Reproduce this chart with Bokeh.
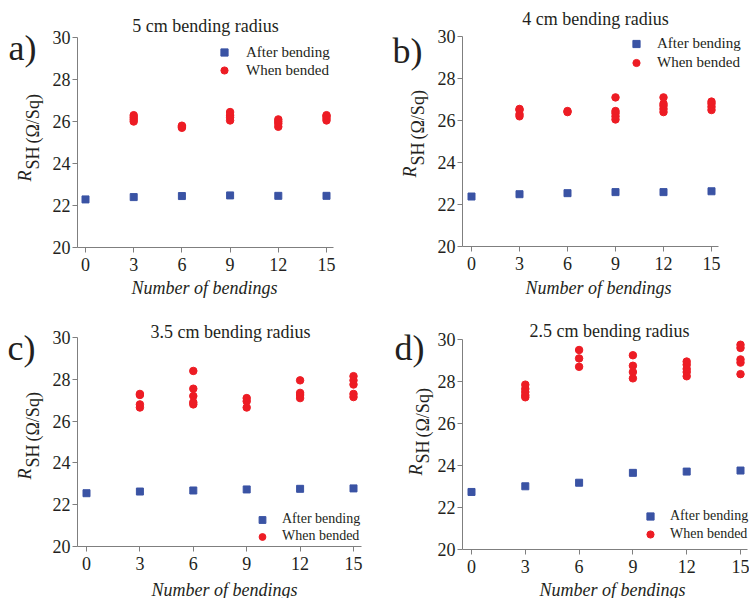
import numpy as np
from bokeh.plotting import figure
from bokeh.models import Label, Legend, LegendItem, FixedTicker, Range1d
from bokeh.layouts import column, row
from bokeh.embed import file_html
from bokeh.resources import INLINE

# ---------------- data ----------------
bend_n = [0, 3, 6, 9, 12, 15]
y_ticks = [20, 22, 24, 26, 28, 30]

titles = ["5 cm bending radius", "4 cm bending radius",
          "3.5 cm bending radius", "2.5 cm bending radius"]
letters = ["a)", "b)", "c)", "d)"]

a_after = [22.29, 22.40, 22.45, 22.48, 22.46, 22.46]
a_when = [[26.0, 26.1, 26.2, 26.3], [25.7, 25.75, 25.8],
          [26.05, 26.2, 26.3, 26.45], [25.75, 25.9, 26.0, 26.1],
          [26.05, 26.15, 26.25, 26.3]]

b_after = [22.38, 22.49, 22.54, 22.59, 22.59, 22.63]
b_when = [[26.2, 26.3, 26.5, 26.55], [26.4, 26.45],
          [26.05, 26.2, 26.35, 26.45, 27.1], [26.4, 26.55, 26.7, 26.8, 27.1],
          [26.5, 26.65, 26.8, 26.9]]

c_after = [22.55, 22.63, 22.68, 22.73, 22.76, 22.78]
c_when = [[26.65, 26.8, 27.25, 27.3], [26.8, 26.9, 27.2, 27.55, 28.4],
          [26.65, 26.95, 27.1], [27.1, 27.25, 27.35, 27.95],
          [27.15, 27.3, 27.75, 27.95, 28.15]]

d_after = [22.74, 23.01, 23.18, 23.65, 23.71, 23.76]
d_when = [[27.25, 27.35, 27.5, 27.65, 27.85], [28.7, 29.1, 29.5],
          [28.15, 28.45, 28.75, 29.25], [28.25, 28.45, 28.6, 28.8, 28.95],
          [28.35, 28.9, 29.05, 29.6, 29.75]]

# ---------------- layout (pixel geometry per panel) ----------------
FONT = "Liberation Serif"
BLUE = "#3a53a4"
RED = "#ed1c24"
AXIS = "#7f7f7f"
TXT = "#231f20"

geoms = [
    dict(W=374, H=298, L=77, R=333, T=37, B=247, x0=85, x15=326,
         title=(205, 25), letter=(8, 47), leg=(224, 52, 18, 246), legfs=15,
         yl=(24, 32, 181), xl=(204, 287)),
    dict(W=375, H=298, L=88, R=344, T=36, B=246, x0=97, x15=337,
         title=(221, 18), letter=(18, 50), leg=(262, 43, 19, 283), legfs=15,
         yl=(35, 43, 177), xl=(224, 287)),
    dict(W=374, H=300, L=77, R=361, T=39, B=248, x0=86, x15=353,
         title=(230, 33), letter=(7, 49), leg=(262, 221, 17, 282), legfs=14,
         yl=(24, 32, 181), xl=(224, 291)),
    dict(W=375, H=300, L=88, R=373, T=41, B=251, x0=97, x15=366,
         title=(235, 32), letter=(20, 49), leg=(276, 218, 18, 296), legfs=14,
         yl=(41, 48, 177), xl=(238, 291)),
]


def make_panel(title, letter, after, when, g):
    k = (g["x15"] - g["x0"]) / 15.0

    def X(px):
        return (px - g["x0"]) / k

    def Y(py):
        return 30 - (py - g["T"]) / (g["B"] - g["T"]) * 10

    W, H = g["W"], g["H"]
    p = figure(width=W, height=H, x_range=Range1d(X(0), X(W)),
               y_range=Range1d(Y(H), Y(0)), output_backend="svg",
               toolbar_location=None, title=None,
               min_border_left=0, min_border_right=0,
               min_border_top=0, min_border_bottom=0)
    p.outline_line_color = None
    p.xgrid.visible = False
    p.ygrid.visible = False
    p.background_fill_color = "white"
    p.border_fill_color = "white"

    for ax, ticks in ((p.xaxis, bend_n), (p.yaxis, y_ticks)):
        ax.ticker = FixedTicker(ticks=ticks)
        ax.minor_tick_line_color = None
        ax.major_tick_in = 0
        ax.major_tick_out = 5
        ax.axis_line_color = AXIS
        ax.major_tick_line_color = AXIS
        ax.major_label_text_font = FONT
        ax.major_label_text_font_size = "18px"
        ax.major_label_text_color = TXT
    p.xaxis.major_label_standoff = 5
    p.yaxis.major_label_standoff = 2
    p.xaxis.fixed_location = 20
    p.xaxis.bounds = (X(g["L"]), X(g["R"]))
    p.yaxis.fixed_location = X(g["L"])
    p.yaxis.bounds = (20, 30)

    wx, wy = [], []
    for n, vals in zip(bend_n[1:], when):
        for v in vals:
            wx.append(n)
            wy.append(v)
    r_after = p.scatter(bend_n, after, marker="square", size=7,
                        color=BLUE, line_color=BLUE)
    r_when = p.scatter(wx, wy, marker="circle", size=7.5,
                       color=RED, line_color=RED)

    sqx, sqy, rowh, tx = g["leg"]
    gw = 18
    left = sqx - gw / 2
    top = sqy - rowh / 2
    legend = Legend(items=[LegendItem(label="After bending", renderers=[r_after]),
                           LegendItem(label="When bended", renderers=[r_when])],
                    location=(left, H - (top + 2 * rowh)),
                    glyph_width=gw, glyph_height=rowh, label_height=rowh,
                    label_width=10, spacing=0, padding=0, margin=0,
                    label_standoff=int(round(tx - left - gw)),
                    border_line_color=None, background_fill_alpha=0,
                    label_text_font=FONT, label_text_font_size=f"{g['legfs']}px",
                    label_text_color=TXT)
    p.add_layout(legend)

    def lab(**kw):
        p.add_layout(Label(text_font=FONT, text_color=TXT, **kw))

    # title
    lab(x=X(g["title"][0]), y=Y(g["title"][1]), text=title,
        text_align="center", text_baseline="middle", text_font_size="18px")
    # panel letter
    lab(x=X(g["letter"][0]), y=Y(g["letter"][1]), text=letter,
        text_align="left", text_baseline="middle", text_font_size="36px")
    # x axis label
    lab(x=X(g["xl"][0]), y=Y(g["xl"][1]), text="Number of bendings",
        text_align="center", text_baseline="middle", text_font_style="italic",
        text_font_size="18px")
    # y axis label: R (italic) + SH (subscript) + (Ω/Sq)
    rb, sb, y0 = g["yl"]
    ang = np.pi / 2
    lab(x=X(rb), y=Y(y0), text="R", angle=ang, text_align="left",
        text_baseline="alphabetic", text_font_style="italic", text_font_size="18px")
    lab(x=X(sb), y=Y(y0 - 12), text="SH", angle=ang, text_align="left",
        text_baseline="alphabetic", text_font_size="18px")
    lab(x=X(sb), y=Y(y0 - 38), text="(Ω/Sq)", angle=ang, text_align="left",
        text_baseline="alphabetic", text_font_size="18px")
    return p


panels = [make_panel(t, l, a, w, g) for t, l, a, w, g in
          zip(titles, letters, [a_after, b_after, c_after, d_after],
              [a_when, b_when, c_when, d_when], geoms)]

layout = column(row(panels[0], panels[1]), row(panels[2], panels[3]))

open("out.html", "w").write(file_html(layout, INLINE))
